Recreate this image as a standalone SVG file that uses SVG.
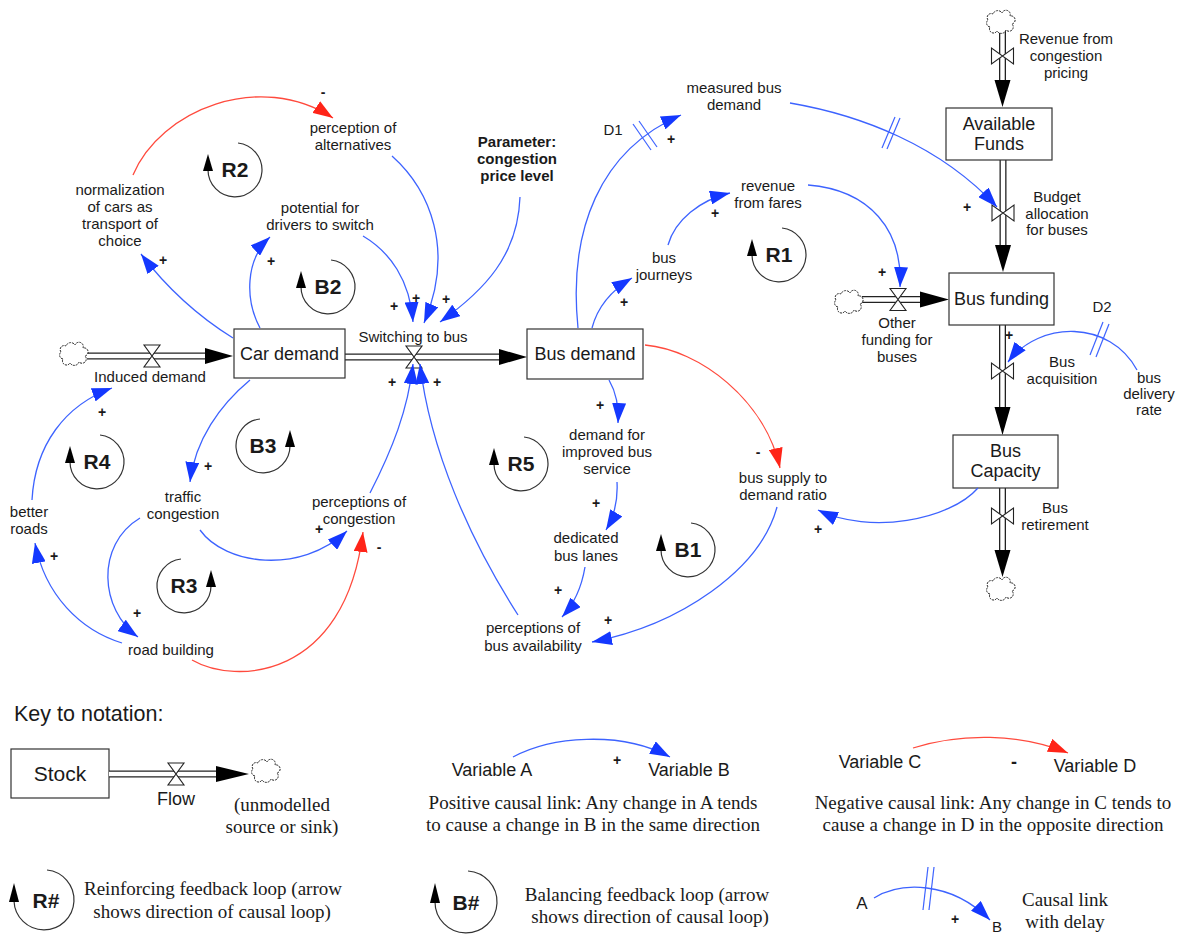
<svg xmlns="http://www.w3.org/2000/svg" width="1182" height="934" viewBox="0 0 1182 934">
<style>
.t{font-family:"Liberation Sans",Arial,sans-serif;font-size:15px;fill:#1a1a1a;text-anchor:middle}
.st{font-size:18px}
.bd{font-weight:bold}
.lp{font-weight:bold;font-size:21px}
.sg{font-weight:bold;font-size:14px}
.sf{font-family:"Liberation Serif","Times New Roman",serif;font-size:19px;fill:#1a1a1a;text-anchor:middle}
.box{fill:#fff;stroke:#333;stroke-width:1.2}
.lk{fill:none;stroke:#3d63ff;stroke-width:1.3}
.ng{fill:none;stroke:#ff4a3d;stroke-width:1.3}
.dl{stroke:#3d63ff;stroke-width:1.2}
.loop{fill:none;stroke:#333;stroke-width:1.2}
.p1{fill:none;stroke:#222;stroke-width:7}
.p2{fill:none;stroke:#fff;stroke-width:4.4}
.v{fill:#fff;stroke:#222;stroke-width:1.1}
.ah{fill:#000}
.cl{fill:#fff;stroke:#222;stroke-width:1;stroke-dasharray:2 1}
</style>
<defs>
<marker id="ab" viewBox="0 0 20 14" refX="20" refY="7" markerWidth="20" markerHeight="14" markerUnits="userSpaceOnUse" orient="auto"><path d="M0,0 L20,7 L0,14 Z" fill="#1438ff"/></marker>
<marker id="ar" viewBox="0 0 20 14" refX="20" refY="7" markerWidth="20" markerHeight="14" markerUnits="userSpaceOnUse" orient="auto"><path d="M0,0 L20,7 L0,14 Z" fill="#ff2418"/></marker>
<path id="cloud" d="M-11,6 A4,4 0 0 1 -13,-1 A4,4 0 0 1 -8,-7 A5,5 0 0 1 1,-8 A4,4 0 0 1 9,-5 A4,4 0 0 1 11,3 A4,4 0 0 1 5,9 A5,5 0 0 1 -4,10 A4,4 0 0 1 -11,6 Z"/>
</defs>
<rect width="1182" height="934" fill="#fff"/>

<!-- flows -->
<g id="flows">
<path class="p1" d="M87,356 H208"/><path class="p2" d="M87,356 H208"/>
<polygon class="ah" points="205,348 233,356 205,364"/>
<path class="v" d="M144,345 L160,345 L144,367 L160,367 Z"/>
<use href="#cloud" class="cl" x="74" y="353"/>

<path class="p1" d="M345,357 H500"/><path class="p2" d="M345,357 H500"/>
<polygon class="ah" points="499,349 527,357 499,365"/>
<path class="v" d="M406,346 L422,346 L406,368 L422,368 Z"/>

<path class="p1" d="M1002.5,30 V82"/><path class="p2" d="M1002.5,30 V82"/>
<polygon class="ah" points="994.5,80 1002.5,107 1010.5,80"/>
<path class="v" d="M991.5,48 L991.5,64 L1013.5,48 L1013.5,64 Z"/>
<use href="#cloud" class="cl" x="1001" y="21"/>

<path class="p1" d="M1003,160 V247"/><path class="p2" d="M1003,160 V247"/>
<polygon class="ah" points="995,245 1003,272 1011,245"/>
<path class="v" d="M992,205 L992,221 L1014,205 L1014,221 Z"/>

<path class="p1" d="M862,299.5 H922"/><path class="p2" d="M862,299.5 H922"/>
<polygon class="ah" points="920,291.5 949,299.5 920,307.5"/>
<path class="v" d="M890,288.5 L906,288.5 L890,310.5 L906,310.5 Z"/>
<use href="#cloud" class="cl" x="849" y="301"/>

<path class="p1" d="M1002.5,325 V409"/><path class="p2" d="M1002.5,325 V409"/>
<polygon class="ah" points="994.5,407 1002.5,435 1010.5,407"/>
<path class="v" d="M991.5,363 L991.5,379 L1013.5,363 L1013.5,379 Z"/>

<path class="p1" d="M1002.5,488 V552"/><path class="p2" d="M1002.5,488 V552"/>
<polygon class="ah" points="994.5,550 1002.5,577 1010.5,550"/>
<path class="v" d="M991.5,508 L991.5,524 L1013.5,508 L1013.5,524 Z"/>
<use href="#cloud" class="cl" x="1001" y="588"/>
</g>

<!-- stocks -->
<g id="car-demand"><rect class="box" x="234" y="329" width="111" height="49"/><text class="t st" x="289.5" y="360">Car demand</text></g>
<g id="bus-demand"><rect class="box" x="527" y="329" width="116" height="50"/><text class="t st" x="585" y="360">Bus demand</text></g>
<g id="available-funds"><rect class="box" x="946" y="108" width="106" height="52"/><text class="t st"><tspan x="999" y="130">Available</tspan><tspan x="999" y="150">Funds</tspan></text></g>
<g id="bus-funding"><rect class="box" x="949" y="273" width="105" height="52"/><text class="t st" x="1001.5" y="305">Bus funding</text></g>
<g id="bus-capacity"><rect class="box" x="953" y="435" width="105" height="53"/><text class="t st"><tspan x="1005.5" y="457">Bus</tspan><tspan x="1005.5" y="477">Capacity</tspan></text></g>

<!-- variables -->
<g id="normalization"><text class="t"><tspan x="120" y="195">normalization</tspan><tspan x="120" y="212">of cars as</tspan><tspan x="120" y="229">transport of</tspan><tspan x="120" y="246">choice</tspan></text></g>
<g id="perception-alternatives"><text class="t"><tspan x="353" y="133">perception of</tspan><tspan x="353" y="150">alternatives</tspan></text></g>
<g id="potential"><text class="t"><tspan x="320" y="213">potential for</tspan><tspan x="320" y="230">drivers to switch</tspan></text></g>
<g id="parameter"><text class="t bd"><tspan x="517" y="147">Parameter:</tspan><tspan x="517" y="164">congestion</tspan><tspan x="517" y="181">price level</tspan></text></g>
<g id="switching"><text class="t" x="413" y="342">Switching to bus</text></g>
<g id="induced"><text class="t" x="150" y="382">Induced demand</text></g>
<g id="measured"><text class="t"><tspan x="734" y="93">measured bus</tspan><tspan x="734" y="110">demand</tspan></text></g>
<g id="revenue-fares"><text class="t"><tspan x="768" y="191">revenue</tspan><tspan x="768" y="208">from fares</tspan></text></g>
<g id="bus-journeys"><text class="t"><tspan x="664" y="263">bus</tspan><tspan x="664" y="280">journeys</tspan></text></g>
<g id="revenue-congestion"><text class="t"><tspan x="1066" y="44">Revenue from</tspan><tspan x="1066" y="61">congestion</tspan><tspan x="1066" y="78">pricing</tspan></text></g>
<g id="budget"><text class="t"><tspan x="1057" y="202">Budget</tspan><tspan x="1057" y="219">allocation</tspan><tspan x="1057" y="235">for buses</tspan></text></g>
<g id="other-funding"><text class="t"><tspan x="897" y="328">Other</tspan><tspan x="897" y="345">funding for</tspan><tspan x="897" y="362">buses</tspan></text></g>
<g id="acquisition"><text class="t"><tspan x="1062" y="367">Bus</tspan><tspan x="1062" y="384">acquisition</tspan></text></g>
<g id="delivery"><text class="t"><tspan x="1149" y="383">bus</tspan><tspan x="1149" y="399">delivery</tspan><tspan x="1149" y="415">rate</tspan></text></g>
<g id="retirement"><text class="t"><tspan x="1055" y="513">Bus</tspan><tspan x="1055" y="530">retirement</tspan></text></g>
<g id="better-roads"><text class="t"><tspan x="29" y="517">better</tspan><tspan x="29" y="534">roads</tspan></text></g>
<g id="traffic"><text class="t"><tspan x="183" y="502">traffic</tspan><tspan x="183" y="519">congestion</tspan></text></g>
<g id="perc-congestion"><text class="t"><tspan x="359" y="507">perceptions of</tspan><tspan x="359" y="524">congestion</tspan></text></g>
<g id="road-building"><text class="t" x="171" y="655">road building</text></g>
<g id="demand-improved"><text class="t"><tspan x="607" y="440">demand for</tspan><tspan x="607" y="457">improved bus</tspan><tspan x="607" y="474">service</tspan></text></g>
<g id="dedicated"><text class="t"><tspan x="586" y="543">dedicated</tspan><tspan x="586" y="561">bus lanes</tspan></text></g>
<g id="perc-availability"><text class="t"><tspan x="533" y="633">perceptions of</tspan><tspan x="533" y="651">bus availability</tspan></text></g>
<g id="supply-ratio"><text class="t"><tspan x="783" y="483">bus supply to</tspan><tspan x="783" y="500">demand ratio</tspan></text></g>

<!-- loops -->
<g id="loop-R2"><path class="loop" d="M238,143 A27,27 0 1 1 208,170"/><polygon class="ah" points="203,171 213,171 208,154"/><text class="t lp" x="235" y="177">R2</text></g>
<g id="loop-B2"><path class="loop" d="M331,260 A27,27 0 1 1 301,287"/><polygon class="ah" points="296,288 306,288 301,271"/><text class="t lp" x="328" y="294">B2</text></g>
<g id="loop-R1"><path class="loop" d="M782,228 A27,27 0 1 1 752,255"/><polygon class="ah" points="747,256 757,256 752,239"/><text class="t lp" x="779" y="262">R1</text></g>
<g id="loop-R4"><path class="loop" d="M100,435 A27,27 0 1 1 70,462"/><polygon class="ah" points="65,463 75,463 70,446"/><text class="t lp" x="97" y="469">R4</text></g>
<g id="loop-B3"><path class="loop" d="M260,419 A27,27 0 1 0 290,446"/><polygon class="ah" points="285,447 295,447 290,430"/><text class="t lp" x="263" y="453">B3</text></g>
<g id="loop-R3"><path class="loop" d="M181,559 A27,27 0 1 0 211,586"/><polygon class="ah" points="206,587 216,587 211,570"/><text class="t lp" x="184" y="593">R3</text></g>
<g id="loop-R5"><path class="loop" d="M524,437 A27,27 0 1 1 494,464"/><polygon class="ah" points="489,465 499,465 494,448"/><text class="t lp" x="521" y="471">R5</text></g>
<g id="loop-B1"><path class="loop" d="M691,523 A27,27 0 1 1 661,550"/><polygon class="ah" points="656,551 666,551 661,534"/><text class="t lp" x="688" y="557">B1</text></g>

<!-- connectors -->
<g id="connectors">
<path class="lk" marker-end="url(#ab)" d="M233,338 Q180,305 141,254"/>
<path class="ng" marker-end="url(#ar)" d="M133,175 C160,110 260,70 333,118"/>
<path class="lk" marker-end="url(#ab)" d="M260,328 C245,300 245,260 270,237"/>
<path class="lk" marker-end="url(#ab)" d="M363,236 C390,252 410,280 413,322"/>
<path class="lk" marker-end="url(#ab)" d="M392,156 C430,190 455,250 424,323"/>
<path class="lk" marker-end="url(#ab)" d="M520,197 C518,255 485,290 440,322"/>
<path class="lk" marker-end="url(#ab)" d="M370,493 C392,450 408,410 413,364"/>
<path class="lk" marker-end="url(#ab)" d="M518,615 C470,540 430,450 420,364"/>
<path class="lk" marker-end="url(#ab)" d="M250,380 C220,405 195,440 190,482"/>
<path class="lk" marker-end="url(#ab)" d="M200,530 C225,565 300,575 347,531"/>
<path class="lk" marker-end="url(#ab)" d="M140,518 C95,545 100,610 138,637"/>
<path class="lk" marker-end="url(#ab)" d="M122,643 C80,630 45,595 35,543"/>
<path class="lk" marker-end="url(#ab)" d="M32,500 C35,445 65,405 112,388"/>
<path class="ng" marker-end="url(#ar)" d="M192,660 C235,685 345,680 363,532"/>
<path class="lk" marker-end="url(#ab)" d="M592,328 C598,305 612,290 632,278"/>
<path class="lk" marker-end="url(#ab)" d="M578,328 C568,230 600,150 681,115"/>
<line class="dl" x1="633" y1="124" x2="651" y2="150"/><line class="dl" x1="639" y1="121" x2="657" y2="147"/>
<path class="lk" marker-end="url(#ab)" d="M668,245 C675,220 700,200 730,193"/>
<path class="lk" marker-end="url(#ab)" d="M808,185 C870,190 903,230 900,287"/>
<path class="lk" marker-end="url(#ab)" d="M790,103 C860,115 940,145 997,207"/>
<line class="dl" x1="882" y1="148" x2="895" y2="117"/><line class="dl" x1="887" y1="149" x2="900" y2="118"/>
<path class="lk" marker-end="url(#ab)" d="M1137,370 C1110,320 1040,320 1008,362"/>
<line class="dl" x1="1090" y1="355" x2="1103" y2="322"/><line class="dl" x1="1096" y1="357" x2="1109" y2="324"/>
<path class="lk" marker-end="url(#ab)" d="M978,488 C950,520 870,535 818,510"/>
<path class="ng" marker-end="url(#ar)" d="M645,345 C700,350 765,400 780,468"/>
<path class="lk" marker-end="url(#ab)" d="M777,507 C760,570 680,625 592,642"/>
<path class="lk" marker-end="url(#ab)" d="M609,380 C616,392 619,405 618,423"/>
<path class="lk" marker-end="url(#ab)" d="M617,482 C618,500 615,515 606,530"/>
<path class="lk" marker-end="url(#ab)" d="M585,567 C582,585 575,603 562,617"/>
</g>

<!-- polarity signs -->
<g id="signs" class="t sg">
<text x="163" y="265">+</text>
<text x="271" y="266">+</text>
<text x="394" y="311">+</text>
<text x="416" y="303">+</text>
<text x="446" y="304">+</text>
<text x="392" y="387">+</text>
<text x="437" y="387">+</text>
<text x="323" y="97">-</text>
<text x="208" y="471">+</text>
<text x="319" y="534">+</text>
<text x="137" y="618">+</text>
<text x="54" y="561">+</text>
<text x="102" y="417">+</text>
<text x="379" y="552">-</text>
<text x="624" y="307">+</text>
<text x="671" y="144">+</text>
<text x="715" y="218">+</text>
<text x="882" y="277">+</text>
<text x="967" y="212">+</text>
<text x="1009" y="340">+</text>
<text x="818" y="534">+</text>
<text x="758" y="457">-</text>
<text x="600" y="410">+</text>
<text x="596" y="508">+</text>
<text x="558" y="595">+</text>
<text x="608" y="625">+</text>
</g>
<text class="t" x="613" y="135">D1</text>
<text class="t" x="1102" y="312">D2</text>

<!-- key -->
<g id="key">
<text class="t" x="14" y="721" style="text-anchor:start;font-size:21.5px">Key to notation:</text>
<g id="key-stock"><rect class="box" x="11" y="749" width="98" height="49"/><text class="t" x="60" y="781" style="font-size:21px">Stock</text></g>
<g id="key-flow">
<path class="p1" d="M109,774 H218"/><path class="p2" d="M109,774 H218"/>
<polygon class="ah" points="216,766 249,774 216,782"/>
<path class="v" d="M168,763 L184,763 L168,785 L184,785 Z"/>
<use href="#cloud" class="cl" x="266" y="770"/>
<text class="t st" x="176" y="805">Flow</text>
<text class="sf"><tspan x="282" y="811">(unmodelled</tspan><tspan x="282" y="833">source or sink)</tspan></text>
</g>
<g id="key-positive">
<path class="lk" marker-end="url(#ab)" d="M513,757 C550,737 620,730 670,757"/>
<text class="t st" x="492" y="776">Variable A</text>
<text class="t sg" x="617" y="765">+</text>
<text class="t st" x="689" y="776">Variable B</text>
<text class="sf"><tspan x="593" y="809">Positive causal link: Any change in A tends</tspan><tspan x="593" y="831">to cause a change in B in the same direction</tspan></text>
</g>
<g id="key-negative">
<path class="ng" marker-end="url(#ar)" d="M913,748 C960,733 1020,733 1068,753"/>
<text class="t st" x="880" y="768">Variable C</text>
<text class="t sg" x="1014" y="768" style="font-size:18px">-</text>
<text class="t st" x="1095" y="772">Variable D</text>
<text class="sf"><tspan x="993" y="809">Negative causal link: Any change in C tends to</tspan><tspan x="993" y="831">cause a change in D in the opposite direction</tspan></text>
</g>
<g id="key-R">
<path class="loop" d="M47,870 A30,30 0 1 1 14,901"/><polygon class="ah" points="9,902 19,902 14,883"/>
<text class="t lp" x="46" y="908">R#</text>
<text class="sf"><tspan x="213" y="895">Reinforcing feedback loop (arrow</tspan><tspan x="212" y="918">shows direction of causal loop)</tspan></text>
</g>
<g id="key-B">
<path class="loop" d="M468,871 A31,31 0 1 1 435,902"/><polygon class="ah" points="430,903 440,903 435,883"/>
<text class="t lp" x="466" y="910">B#</text>
<text class="sf"><tspan x="647" y="901">Balancing feedback loop (arrow</tspan><tspan x="650" y="923">shows direction of causal loop)</tspan></text>
</g>
<g id="key-delay">
<path class="lk" marker-end="url(#ab)" d="M874,898 C900,882 950,880 990,920"/>
<line class="dl" x1="928" y1="867" x2="923" y2="910"/><line class="dl" x1="934" y1="867" x2="929" y2="910"/>
<text class="t" x="862" y="909" style="font-size:17px">A</text>
<text class="t sg" x="955" y="924">+</text>
<text class="t" x="997" y="932" style="font-size:15px">B</text>
<text class="sf"><tspan x="1065" y="906">Causal link</tspan><tspan x="1065" y="928">with delay</tspan></text>
</g>
</g>
</svg>
